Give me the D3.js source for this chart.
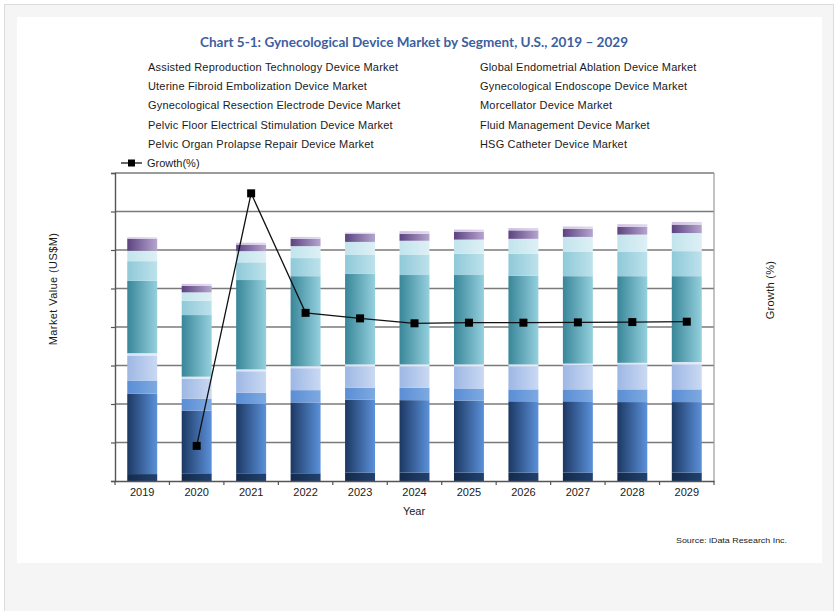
<!DOCTYPE html>
<html>
<head>
<meta charset="utf-8">
<script src="https://cdn.jsdelivr.net/npm/d3@7"></script>
<style>
  html, body { margin: 0; padding: 0; background: #ffffff; }
  svg { display: block; }
  text { font-family: "Liberation Sans", Arial, sans-serif; }
</style>
</head>
<body>
<svg id="chart" width="838" height="611"></svg>
<script>
// ---------------- DATA ----------------
const years = ["2019","2020","2021","2022","2023","2024","2025","2026","2027","2028","2029"];

const seriesNames = [
  "Assisted Reproduction Technology Device Market",
  "Global Endometrial Ablation Device Market",
  "Uterine Fibroid Embolization Device Market",
  "Gynecological Endoscope Device Market",
  "Gynecological Resection Electrode Device Market",
  "Morcellator Device Market",
  "Pelvic Floor Electrical Stimulation Device Market",
  "Fluid Management Device Market",
  "Pelvic Organ Prolapse Repair Device Market",
  "HSG Catheter Device Market"
];

// Market values (US$M), stacked bottom -> top
const assistedReproduction = [18, 20, 20, 20, 22, 22, 22, 22, 22, 22, 22];
const endometrialAblation  = [209, 163, 180, 184, 189, 188, 187, 185, 185, 183, 183];
const fibroidEmbolization  = [34, 31, 29, 32, 31, 32, 30, 31, 31, 33, 33];
const endoscope            = [65, 52, 56, 57, 56, 56, 59, 60, 62, 65, 65];
const resectionElectrode   = [6, 5, 5, 5, 5, 5, 5, 5, 5, 4, 6];
const morcellator          = [188, 160, 232, 234, 235, 232, 232, 230, 227, 225, 223];
const pelvicFloorStim      = [51, 37, 46, 47, 49, 52, 55, 57, 63, 64, 65];
const fluidManagement      = [27, 22, 29, 31, 34, 37, 37, 39, 39, 44, 47];
const prolapseRepair       = [31, 17, 17, 19, 21, 18, 20, 22, 21, 20, 22];
const hsgCatheter          = [4, 5, 5, 5, 3, 7, 6, 6, 6, 7, 7];

// Growth (%)
const growth = [null, -19.3, 21.7, 2.3, 1.4, 0.6, 0.7, 0.7, 0.75, 0.8, 0.86];

const seriesValues = [assistedReproduction, endometrialAblation, fibroidEmbolization, endoscope,
  resectionElectrode, morcellator, pelvicFloorStim, fluidManagement, prolapseRepair, hsgCatheter];

// gradient stops (left, right) per series
const seriesColors = [
  ["#132a4c", "#21426f"],
  ["#1c3863", "#5b91da"],
  ["#5a8dd4", "#7eaae2"],
  ["#9db7e4", "#cad9f3"],
  ["#d5e2f3", "#e6eef9"],
  ["#388699", "#95d0de"],
  ["#8fc9d8", "#bde2eb"],
  ["#c2e4ed", "#ddf0f5"],
  ["#5c4380", "#b5a5d0"],
  ["#cdbfe0", "#e2d9ee"]
];

// ---------------- LAYOUT ----------------
const svg = d3.select("#chart");
const plot = { left: 115, right: 714, top: 173, bottom: 481 };

// page frame
svg.append("rect").attr("x", 4.5).attr("y", 4.5).attr("width", 829).attr("height", 620)
  .attr("fill", "#f5f5f5").attr("stroke", "#dcdcdc");
svg.append("rect").attr("x", 17).attr("y", 17).attr("width", 805).attr("height", 546)
  .attr("fill", "#ffffff");

// gradients
const defs = svg.append("defs");
seriesColors.forEach((c, i) => {
  const g = defs.append("linearGradient").attr("id", "grad" + i)
    .attr("x1", "0%").attr("x2", "100%").attr("y1", "0%").attr("y2", "0%");
  g.append("stop").attr("offset", "0%").attr("stop-color", c[0]);
  g.append("stop").attr("offset", "100%").attr("stop-color", c[1]);
});

// scales
const x = d3.scaleBand().domain(years).range([plot.left, plot.right])
  .paddingInner(0.45).paddingOuter(0.225);
const y = d3.scaleLinear().domain([0, 800]).range([plot.bottom, plot.top]);
const yG = d3.scaleLinear().domain([-25, 25]).range([plot.bottom, plot.top]);

// title
svg.append("text").attr("x", 414).attr("y", 47).attr("text-anchor", "middle")
  .style("font-family", "Lato, 'Open Sans', sans-serif").style("font-weight", "bold")
  .style("font-size", "13.5px").attr("fill", "#3d5f9f")
  .attr("textLength", 428).attr("lengthAdjust", "spacingAndGlyphs")
  .text("Chart 5-1: Gynecological Device Market by Segment, U.S., 2019 \u2013 2029");

// legend (text only, two columns, row-major)
const legendX = [148, 480];
const legendY0 = 71, legendDy = 19.2;
seriesNames.forEach((name, i) => {
  const col = i % 2, row = Math.floor(i / 2);
  svg.append("text").attr("x", legendX[col]).attr("y", legendY0 + row * legendDy)
    .style("font-size", "11px").style("letter-spacing", "0.18px")
    .attr("fill", "#1a1a1a").text(name);
});
// growth legend entry
const gly = legendY0 + 5 * legendDy - 4;
svg.append("line").attr("x1", 121).attr("x2", 142).attr("y1", gly).attr("y2", gly)
  .attr("stroke", "#000").attr("stroke-width", 1.2);
svg.append("rect").attr("x", 128).attr("y", gly - 3.5).attr("width", 7).attr("height", 7).attr("fill", "#000");
svg.append("text").attr("x", 147).attr("y", legendY0 + 5 * legendDy)
  .style("font-size", "11px").attr("fill", "#1a1a1a").text("Growth(%)");

// gridlines
const gridVals = d3.range(100, 801, 100);
svg.append("g").selectAll("line").data(gridVals).join("line")
  .attr("x1", plot.left).attr("x2", plot.right)
  .attr("y1", d => y(d)).attr("y2", d => y(d))
  .attr("stroke", "#7a7a7a").attr("stroke-width", 1.4);
// right border
svg.append("line").attr("x1", plot.right).attr("x2", plot.right)
  .attr("y1", plot.top).attr("y2", plot.bottom).attr("stroke", "#9a9a9a").attr("stroke-width", 1.2);

// stacked bars
const table = years.map((yr, i) => {
  const o = { year: yr };
  seriesValues.forEach((s, j) => { o["s" + j] = s[i]; });
  return o;
});
const keys = seriesValues.map((s, j) => "s" + j);
const stacked = d3.stack().keys(keys)(table);

svg.append("g").selectAll("g").data(stacked).join("g")
  .attr("fill", (d, i) => "url(#grad" + i + ")")
  .selectAll("rect").data(d => d).join("rect")
  .attr("x", d => x(d.data.year))
  .attr("width", x.bandwidth())
  .attr("y", d => y(d[1]))
  .attr("height", d => y(d[0]) - y(d[1]));

// axes
const yAxis = d3.axisLeft(y).tickValues(d3.range(0, 801, 100)).tickSize(4).tickFormat("");
const gy = svg.append("g").attr("transform", `translate(${plot.left},0)`).call(yAxis);
gy.select(".domain").attr("stroke", "#555").attr("stroke-width", 1.4);
gy.selectAll(".tick line").attr("stroke", "#555").attr("stroke-width", 1.2);

const gx = svg.append("g").attr("transform", `translate(0,${plot.bottom})`)
  .call(d3.axisBottom(x).tickSize(0).tickPadding(7));
gx.select(".domain").attr("stroke", "#555").attr("stroke-width", 1.4);
gx.selectAll(".tick text").style("font-size", "11px").style("font-family", "'Liberation Sans', Arial, sans-serif").attr("fill", "#1a1a1a");
// boundary ticks
const boundaries = d3.range(0, years.length + 1).map(i => plot.left + i * x.step());
svg.append("g").selectAll("line").data(boundaries).join("line")
  .attr("x1", d => d).attr("x2", d => d).attr("y1", plot.bottom).attr("y2", plot.bottom + 4)
  .attr("stroke", "#555").attr("stroke-width", 1.2);

// growth line
const gpts = years.map((yr, i) => ({ year: yr, g: growth[i] })).filter(d => d.g !== null);
const line = d3.line().x(d => x(d.year) + x.bandwidth() / 2).y(d => yG(d.g));
svg.append("path").datum(gpts).attr("d", line).attr("fill", "none")
  .attr("stroke", "#111").attr("stroke-width", 1.3);
svg.append("g").selectAll("rect").data(gpts).join("rect")
  .attr("x", d => x(d.year) + x.bandwidth() / 2 - 4)
  .attr("y", d => yG(d.g) - 4)
  .attr("width", 8).attr("height", 8).attr("fill", "#000");

// axis titles
svg.append("text").attr("transform", "translate(57,289) rotate(-90)").attr("text-anchor", "middle")
  .style("font-size", "11px").style("letter-spacing", "0.4px")
  .attr("fill", "#1a1a1a").text("Market Value (US$M)");
svg.append("text").attr("transform", "translate(774,290) rotate(-90)").attr("text-anchor", "middle")
  .style("font-size", "11px").style("letter-spacing", "0.3px")
  .attr("fill", "#1a1a1a").text("Growth (%)");
svg.append("text").attr("x", 414).attr("y", 515).attr("text-anchor", "middle")
  .style("font-size", "11px").attr("fill", "#1a1a1a").text("Year");

// source
svg.append("text").attr("x", 676).attr("y", 543)
  .style("font-size", "8px").attr("fill", "#1a1a1a")
  .attr("textLength", 111).attr("lengthAdjust", "spacingAndGlyphs")
  .text("Source: iData Research Inc.");
</script>
</body>
</html>
